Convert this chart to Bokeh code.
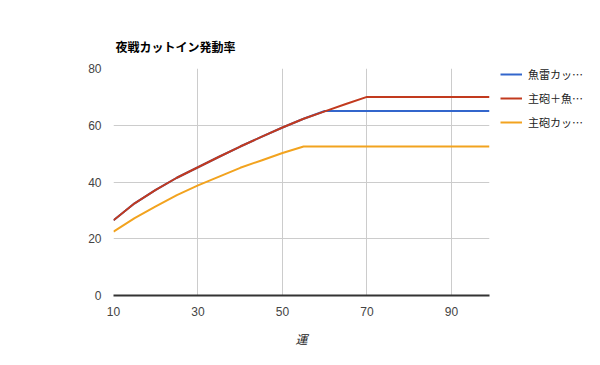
from bokeh.plotting import figure
from bokeh.models import Legend, LegendItem, FixedTicker, ColumnDataSource
from bokeh.embed import file_html
from bokeh.resources import INLINE

luck = [10, 15, 20, 25, 30, 35, 40, 45, 50, 55, 60, 65, 70, 75, 80, 85, 90, 95, 99]
torpedo_ci = [26.5, 32.5, 37.2, 41.5, 45.2, 48.9, 52.5, 55.9, 59.2, 62.3, 65.0, 65.0, 65.0, 65.0, 65.0, 65.0, 65.0, 65.0, 65.0]
mixed_ci = [26.5, 32.5, 37.2, 41.5, 45.2, 48.9, 52.5, 55.9, 59.2, 62.3, 64.9, 67.5, 70.0, 70.0, 70.0, 70.0, 70.0, 70.0, 70.0]
gun_ci = [22.5, 27.3, 31.4, 35.4, 38.8, 41.9, 45.0, 47.6, 50.2, 52.5, 52.5, 52.5, 52.5, 52.5, 52.5, 52.5, 52.5, 52.5, 52.5]
series_names = ["魚雷カッ…", "主砲＋魚…", "主砲カッ…"]
x_ticks = [10, 30, 50, 70, 90]
y_ticks = [0, 20, 40, 60, 80]
colors = ["#3366cc", "#c23a1e", "#f2a31f"]

src = ColumnDataSource(dict(luck=luck, a=torpedo_ci, b=mixed_ci, c=gun_ci))

p = figure(frame_width=376, frame_height=227, output_backend="svg", toolbar_location=None,
           x_range=(10, 99), y_range=(0, 80),
           min_border_left=113, min_border_right=95, min_border_top=68, min_border_bottom=54)
p.outline_line_color = None
p.background_fill_color = "white"
p.border_fill_color = "white"

p.title.text = "夜戦カットイン発動率"
p.title.text_font = "Noto Sans CJK JP"
p.title.text_font_size = "12px"
p.title.text_font_style = "bold"
p.title.text_color = "#000000"
p.title.offset = 2
p.title.standoff = 27

r1 = p.line("luck", "a", source=src, line_color=colors[0], line_width=2)
r2 = p.line("luck", "b", source=src, line_color=colors[1], line_width=2)
r3 = p.line("luck", "c", source=src, line_color=colors[2], line_width=2)

p.xaxis.ticker = FixedTicker(ticks=x_ticks)
p.yaxis.ticker = FixedTicker(ticks=y_ticks)
p.xgrid.ticker = FixedTicker(ticks=x_ticks)
p.ygrid.ticker = FixedTicker(ticks=y_ticks)
p.xgrid.grid_line_color = "#cccccc"
p.ygrid.grid_line_color = "#cccccc"

for ax in (p.xaxis, p.yaxis):
    ax.major_tick_line_color = None
    ax.minor_tick_line_color = None
    ax.major_label_text_font = "Liberation Sans"
    ax.major_label_text_font_size = "12px"
    ax.major_label_text_color = "#444444"
p.yaxis.axis_line_color = None
p.yaxis.major_label_standoff = 6
p.xaxis.axis_line_color = "#333333"
p.xaxis.axis_line_width = 2
p.xaxis.major_label_standoff = 5
p.xaxis.axis_label = "運"
p.xaxis.axis_label_text_font = "Noto Sans CJK JP"
p.xaxis.axis_label_text_font_size = "12px"
p.xaxis.axis_label_text_font_style = "italic"
p.xaxis.axis_label_text_color = "#222222"
p.xaxis.axis_label_standoff = 11

legend = Legend(items=[LegendItem(label=series_names[0], renderers=[r1]),
                       LegendItem(label=series_names[1], renderers=[r2]),
                       LegendItem(label=series_names[2], renderers=[r3])],
                location=(11, 165), orientation="vertical",
                glyph_width=22, glyph_height=14, label_height=14, spacing=8,
                label_standoff=6, padding=0, margin=0,
                label_text_font="Noto Sans CJK JP", label_text_font_size="11px",
                label_text_color="#222222",
                border_line_color=None, background_fill_alpha=0)
p.add_layout(legend, "right")

open("out.html", "w").write(file_html(p, INLINE))
